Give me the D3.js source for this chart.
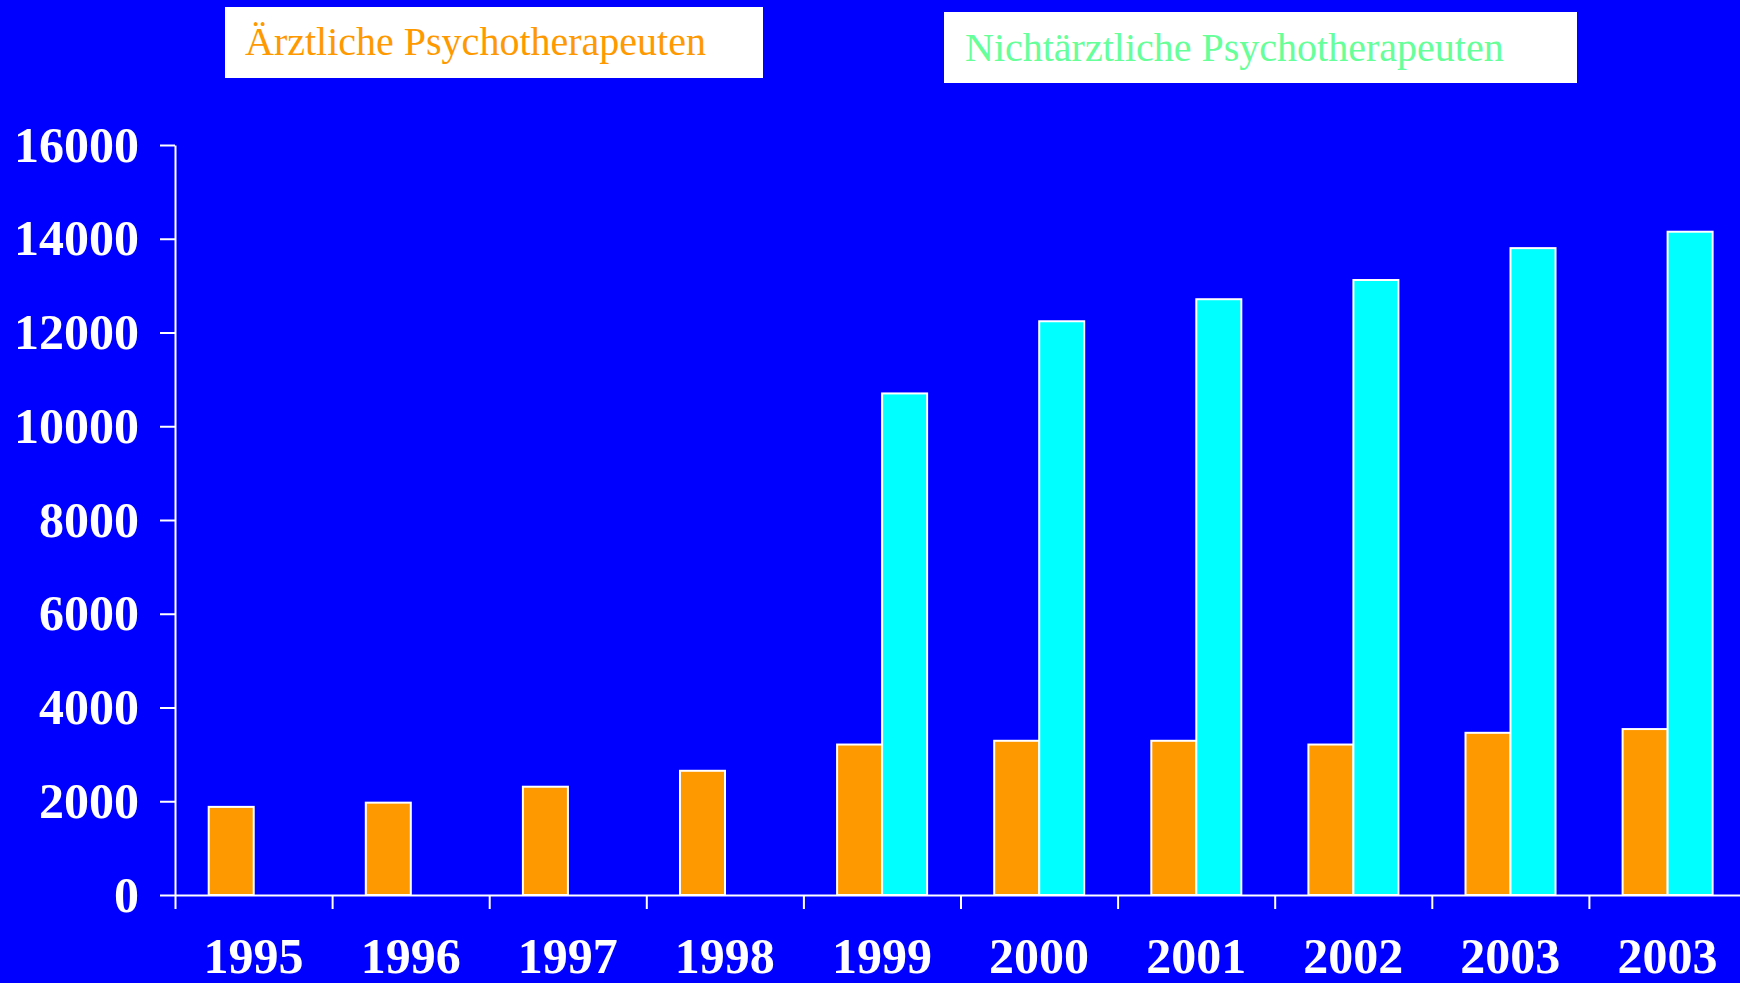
<!DOCTYPE html>
<html>
<head>
<meta charset="utf-8">
<script src="https://cdn.jsdelivr.net/npm/d3@7"></script>
<style>
  html, body { margin: 0; padding: 0; background: #0000FF; overflow: hidden; }
  svg { display: block; }
</style>
</head>
<body>
<svg id="chart" width="1740" height="983"></svg>
<script>
// ---- Data ----
const years = ["1995", "1996", "1997", "1998", "1999", "2000", "2001", "2002", "2003", "2003"];
const aerztlich = [1880, 1970, 2310, 2650, 3210, 3290, 3290, 3210, 3460, 3540];
const nichtaerztlich = [null, null, null, null, 10700, 12240, 12710, 13120, 13800, 14150];
const yTicks = [0, 2000, 4000, 6000, 8000, 10000, 12000, 14000, 16000];
const seriesNames = ["Ärztliche Psychotherapeuten", "Nichtärztliche Psychotherapeuten"];

// ---- Layout ----
const W = 1740, H = 983;
const x0 = 175, y0 = 895, yTop = 145;
const bandW = 157.1;
const svg = d3.select("#chart");
svg.append("rect").attr("width", W).attr("height", H).attr("fill", "#0000FF");

const idx = d3.range(years.length);
const x = d3.scaleBand().domain(idx).range([x0, x0 + bandW * years.length]).padding(0);
const bw = x.bandwidth();
const x1 = d3.scaleBand().domain([0, 1]).range([bw * 0.2145, bw * 0.7875]).padding(0);
const y = d3.scaleLinear().domain([0, 16000]).range([y0, yTop]);

const colors = ["#FF9900", "#00FFFF"];
const series = [aerztlich, nichtaerztlich];

// Bars
const groups = svg.append("g").selectAll("g").data(idx).join("g")
  .attr("transform", i => `translate(${x(i)},0)`);
groups.selectAll("rect")
  .data(i => series.map((s, k) => ({k, v: s[i]})).filter(d => d.v != null))
  .join("rect")
  .attr("x", d => x1(d.k))
  .attr("width", x1.bandwidth())
  .attr("y", d => y(d.v))
  .attr("height", d => y(0) - y(d.v))
  .attr("fill", d => colors[d.k])
  .attr("stroke", "#FFFFFF")
  .attr("stroke-width", 2);

// Y axis
const yAxis = svg.append("g").attr("transform", `translate(${x0},0)`)
  .call(d3.axisLeft(y).tickValues(yTicks).tickSize(15).tickPadding(21).tickSizeOuter(0).tickFormat(d3.format("d")));
yAxis.selectAll("path, line").attr("stroke", "#FFFFFF").attr("stroke-width", 2);
yAxis.selectAll("text")
  .attr("fill", "#FFFFFF")
  .attr("font-family", "'Liberation Serif', 'Times New Roman', serif")
  .attr("font-weight", "bold")
  .attr("font-size", 50);

// X axis: tick marks at band boundaries
const xb = d3.scaleLinear().domain([0, years.length]).range([x0, x0 + bandW * years.length]);
const xTickAxis = svg.append("g").attr("transform", `translate(0,${y0})`)
  .call(d3.axisBottom(xb).tickValues(d3.range(years.length)).tickSize(14).tickSizeOuter(0).tickFormat(""));
xTickAxis.selectAll("path, line").attr("stroke", "#FFFFFF").attr("stroke-width", 2);

// X axis labels
const xLab = svg.append("g").attr("transform", `translate(0,${y0})`)
  .call(d3.axisBottom(x).tickSize(0).tickPadding(42).tickFormat(i => years[i]));
xLab.select(".domain").remove();
xLab.selectAll("text")
  .attr("fill", "#FFFFFF")
  .attr("font-family", "'Liberation Serif', 'Times New Roman', serif")
  .attr("font-weight", "bold")
  .attr("font-size", 50);

// Legend boxes
const legends = [
  {name: seriesNames[0], x: 225, y: 7, w: 538, h: 71, tx: 245, ty: 55, color: "#FF9900"},
  {name: seriesNames[1], x: 944, y: 12, w: 633, h: 71, tx: 965, ty: 61, color: "#66FF99"}
];
const lg = svg.append("g").selectAll("g").data(legends).join("g");
lg.append("rect")
  .attr("x", d => d.x).attr("y", d => d.y).attr("width", d => d.w).attr("height", d => d.h)
  .attr("fill", "#FFFFFF");
lg.append("text")
  .attr("x", d => d.tx).attr("y", d => d.ty)
  .attr("fill", d => d.color)
  .attr("font-family", "'Liberation Serif', 'Times New Roman', serif")
  .attr("font-size", 40)
  .text(d => d.name);
</script>
</body>
</html>
